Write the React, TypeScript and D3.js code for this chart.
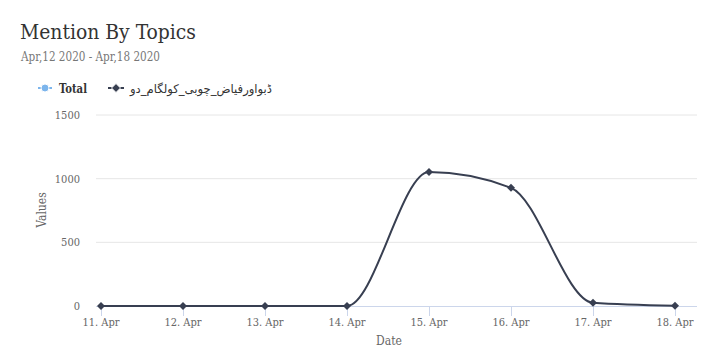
import React from "react";
import * as d3 from "d3";

const W = 711;
const H = 356;

const dates = ["2020-04-11", "2020-04-12", "2020-04-13", "2020-04-14", "2020-04-15", "2020-04-16", "2020-04-17", "2020-04-18"];
const topicValues = [0, 0, 0, 0, 1052, 928, 25, 2];
const totalValues: number[] = [];
const yTicks = [0, 500, 1000, 1500];
const seriesNames = ["Total", "ڈبواورفیاض_چوبی_کولگام_دو"];
const titleText = "Mention By Topics";
const subtitleText = "Apr,12 2020 - Apr,18 2020";

const FONT = "'DejaVu Serif Condensed', 'DejaVu Serif', serif";
const LINE_COLOR = "#383f51";

export default function App() {
  const parse = d3.utcParse("%Y-%m-%d");
  const ds = dates.map((d) => parse(d) as Date);
  const x = d3.scaleUtc().domain([ds[0], ds[ds.length - 1]]).range([101, 675]);
  const y = d3.scaleLinear().domain([0, 1500]).range([306, 115]);
  const fmt = d3.utcFormat("%d. %b");
  const pts: [number, number][] = ds.map((d, i) => [x(d), y(topicValues[i])]);
  const line = d3.line().curve(d3.curveMonotoneX)(pts) || "";
  const totPts: [number, number][] = totalValues.map((v, i) => [x(ds[i]), y(v)]);
  const totLine = totPts.length ? d3.line().curve(d3.curveMonotoneX)(totPts) || "" : "";
  const diamond = (cx: number, cy: number, r: number) =>
    `M${cx},${cy - r}L${cx + r},${cy}L${cx},${cy + r}L${cx - r},${cy}Z`;

  return (
    <svg width={W} height={H} style={{ position: "absolute", left: 0, top: 0, background: "#fff" }} fontFamily={FONT}>
      <text x={20} y={39} fontSize={20} fill="#333" textLength={176} lengthAdjust="spacingAndGlyphs">{titleText}</text>
      <text x={21} y={61} fontSize={12} fill="#777" textLength={139} lengthAdjust="spacingAndGlyphs">{subtitleText}</text>

      {/* legend */}
      <g>
        <line x1={38} x2={52} y1={88} y2={88} stroke="#7cb5ec" strokeWidth={2} />
        <circle cx={45} cy={88} r={4} fill="#7cb5ec" stroke="#fff" strokeWidth={1} />
        <text x={59} y={92.5} fontSize={12} fontWeight="bold" fill="#333" textLength={28} lengthAdjust="spacingAndGlyphs">{seriesNames[0]}</text>
        <line x1={108} x2={124} y1={88} y2={88} stroke={LINE_COLOR} strokeWidth={2} />
        <path d={diamond(116, 88, 4.5)} fill={LINE_COLOR} stroke="#fff" strokeWidth={1} />
        <text x={130} y={92.5} fontSize={12} fill="#333" fontFamily="'DejaVu Sans', sans-serif" textLength={142} lengthAdjust="spacingAndGlyphs">{seriesNames[1]}</text>
      </g>

      {/* grid */}
      {yTicks.map((t) => (
        <g key={t}>
          {t !== 0 && <line x1={96} x2={697} y1={y(t)} y2={y(t)} stroke="#e6e6e6" strokeWidth={1} />}
          <text x={80} y={y(t) + 4} fontSize={11} fill="#666" textAnchor="end">{t}</text>
        </g>
      ))}
      <text transform={`translate(46,210) rotate(-90)`} fontSize={12} fill="#666" textAnchor="middle">Values</text>

      {/* x axis */}
      <line x1={96} x2={697} y1={306.5} y2={306.5} stroke="#ccd6eb" strokeWidth={1} />
      {ds.map((d, i) => (
        <g key={i}>
          <line x1={x(d) + 0.5} x2={x(d) + 0.5} y1={306} y2={316} stroke="#ccd6eb" strokeWidth={1} />
          <text x={x(d)} y={326} fontSize={11} fill="#666" textAnchor="middle">{fmt(d)}</text>
        </g>
      ))}
      <text x={389} y={345} fontSize={12} fill="#666" textAnchor="middle">Date</text>

      {totLine && <path d={totLine} fill="none" stroke="#7cb5ec" strokeWidth={2} />}
      <path d={line} fill="none" stroke={LINE_COLOR} strokeWidth={2} />
      {pts.map((p, i) => (
        <path key={i} d={diamond(p[0], p[1], 4)} fill={LINE_COLOR} />
      ))}
    </svg>
  );
}
